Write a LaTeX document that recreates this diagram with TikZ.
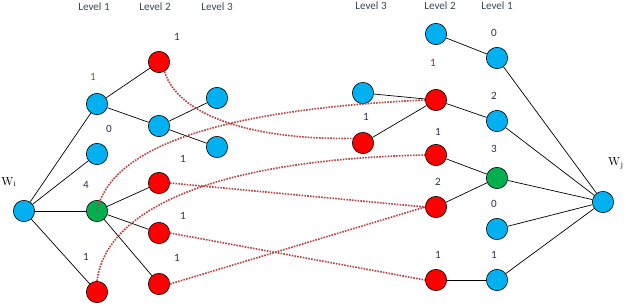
\documentclass[tikz,border=0pt]{standalone}
\usepackage{fontspec}
\setsansfont{Carlito}
\usepackage{tikz}
\definecolor{nodeblue}{RGB}{0,176,240}
\definecolor{nodered}{RGB}{255,0,0}
\definecolor{nodegreen}{RGB}{0,176,80}
\definecolor{linkred}{RGB}{185,70,68}
\definecolor{labelgray}{RGB}{40,50,70}
\definecolor{labelbrown}{RGB}{130,95,40}
\definecolor{labelred}{RGB}{170,30,30}

\begin{document}
\begin{tikzpicture}[
            x=0.03cm, y=-0.03cm,
            vertex/.style={circle, draw=black, line width=0.5pt, minimum size=0.64cm, inner sep=0pt},
            bluenode/.style={vertex, fill=nodeblue},
            rednode/.style={vertex, fill=nodered},
            greennode/.style={vertex, fill=nodegreen},
            edge/.style={color=black, line width=0.6pt},
            link/.style={color=linkred, line width=1.4pt, densely dotted},
            levelnode/.style={align=center, color=labelgray!90, font=\sffamily\fontsize{9.5}{11}\selectfont},
            countnode/.style={align=center, color=labelgray, font=\sffamily\fontsize{9.5}{11}\selectfont},
            rootnode/.style={align=center, color=black, font=\fontsize{10}{12}\selectfont}
        ]
            \useasboundingbox (0,0) rectangle (626,306);

            % levels (top)
            \node[levelnode] (hl1) at (94,7) {Level 1};
            \node[levelnode] (hl2) at (155,7) {Level 2};
            \node[levelnode] (hl3) at (217,7) {Level 3};
            \node[levelnode] (hr3) at (371,6) {Level 3};
            \node[levelnode] (hr2) at (440,6) {Level 2};
            \node[levelnode] (hr1) at (497,6) {Level 1};

            % roots
            \node[bluenode] (wi) at (24,211) {};
            \node[bluenode] (wj) at (603,202) {};
            \node[rootnode] (wilabel) at (9,182) {W$_\mathrm{i}$};
            \node[rootnode] (wjlabel) at (616,163) {W$_\mathrm{j}$};

            % left tree
            \node[bluenode] (la1) at (97,104) {};
            \node[bluenode] (lb1) at (97,154) {};
            \node[greennode] (lc1) at (97,211) {};
            \node[rednode] (ld1) at (97,292) {};
            \node[rednode] (la2) at (159,62) {};
            \node[bluenode] (lb2) at (159,126) {};
            \node[bluenode] (la3) at (217,98) {};
            \node[bluenode] (lb3) at (217,147) {};
            \node[rednode] (lc2) at (159,183) {};
            \node[rednode] (ld2) at (159,233) {};
            \node[rednode] (le2) at (159,284) {};

            % right tree
            \node[bluenode] (ra2) at (436,34) {};
            \node[bluenode] (ra1) at (497,58) {};
            \node[bluenode] (ra3) at (363,93) {};
            \node[rednode] (rb2) at (436,100) {};
            \node[bluenode] (rb1) at (497,121) {};
            \node[rednode] (rb3) at (363,143) {};
            \node[rednode] (rc2) at (436,155) {};
            \node[greennode] (rc1) at (497,178) {};
            \node[rednode] (rd2) at (436,207) {};
            \node[bluenode] (rd1) at (497,229) {};
            \node[rednode] (re2) at (436,280) {};
            \node[bluenode] (re1) at (497,280) {};

            % counts (left)
            \node[countnode, color=labelbrown] (ca1) at (93,77) {1};
            \node[countnode] (cb1) at (109,129) {0};
            \node[countnode] (cc1) at (86,185) {4};
            \node[countnode] (cd1) at (86,257) {1};
            \node[countnode] (ca2) at (177,37) {1};
            \node[countnode] (cc2) at (183,159) {1};
            \node[countnode] (cd2) at (183,216) {1};
            \node[countnode] (ce2) at (177,258) {1};

            % counts (right)
            \node[countnode] (cra1) at (494,33) {0};
            \node[countnode, color=labelred] (crb2) at (433,63) {1};
            \node[countnode] (crb1) at (494,96) {2};
            \node[countnode] (crb3) at (366,117) {1};
            \node[countnode] (crc2) at (438,132) {1};
            \node[countnode] (crc1) at (494,149) {3};
            \node[countnode] (crd2) at (438,182) {2};
            \node[countnode] (crd1) at (494,204) {0};
            \node[countnode] (cre2) at (438,255) {1};
            \node[countnode] (cre1) at (494,255) {1};

            % edges (left)
            \foreach \n in {la1, lb1, lc1, ld1}{
                \draw[edge] (wi) -- (\n);
            }
            \draw[edge] (la1) -- (la2);
            \draw[edge] (la1) -- (lb2);
            \draw[edge] (lb2) -- (la3);
            \draw[edge] (lb2) -- (lb3);
            \foreach \n in {lc2, ld2, le2}{
                \draw[edge] (lc1) -- (\n);
            }

            % edges (right)
            \foreach \n in {ra1, rb1, rc1, rd1, re1}{
                \draw[edge] (wj) -- (\n);
            }
            \draw[edge] (ra2) -- (ra1);
            \draw[edge] (ra3) -- (rb2);
            \draw[edge] (rb3) -- (rb2);
            \draw[edge] (rb2) -- (rb1);
            \draw[edge] (rc2) -- (rc1);
            \draw[edge] (rd2) -- (rc1);
            \draw[edge] (re2) -- (re1);

            % links between trees
            \draw[link] (la2.-60) .. controls (178,115) and (250,140) .. (rb3.155);
            \draw[link] (lc1.center) .. controls (110,150) and (210,110) .. (rb2.west);
            \draw[link] (ld1.north) .. controls (105,215) and (200,160) .. (rc2.west);
            \draw[link] (lc2.east) -- (rd2.west);
            \draw[link] (ld2.east) -- (re2.west);
            \draw[link] (le2.east) -- (rd2.west);

        \end{tikzpicture}
\end{document}
